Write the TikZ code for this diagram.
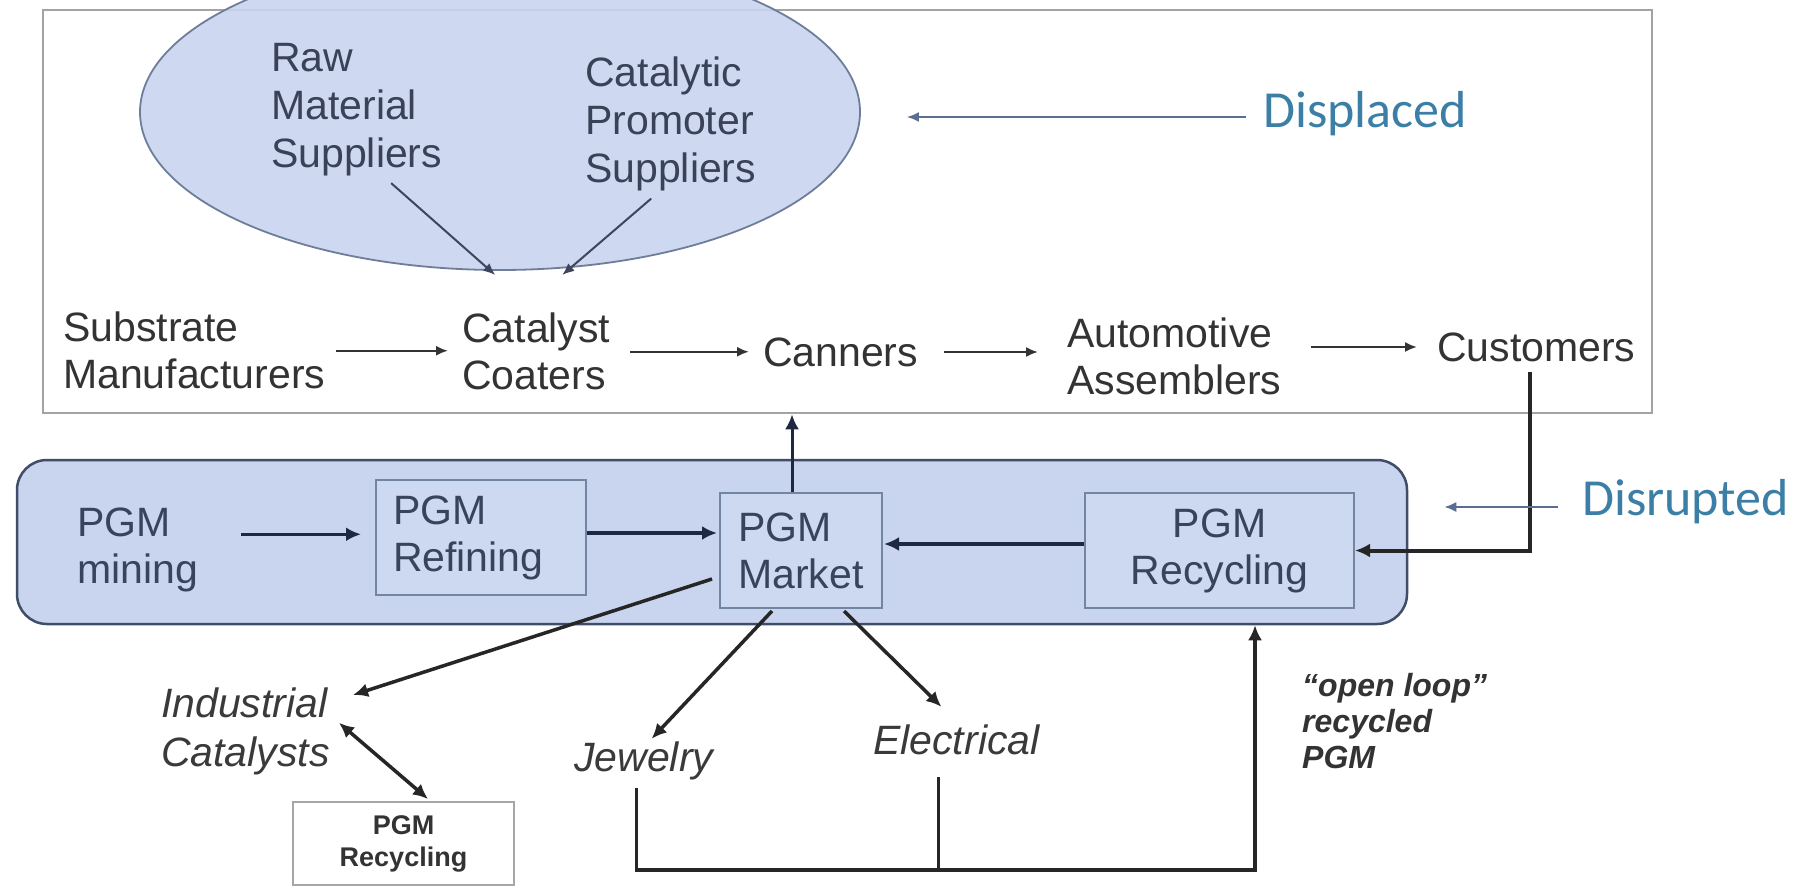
\documentclass[tikz,border=0pt]{standalone}
\usepackage{fontspec}
\setmainfont{Liberation Sans}
\newfontfamily\calib{Carlito}
\usetikzlibrary{arrows.meta,calc,shapes.geometric}

\definecolor{inktext}{HTML}{333333}
\definecolor{ovaltextc}{HTML}{3A4257}
\definecolor{slatetext}{HTML}{38435C}
\definecolor{usetextc}{HTML}{3A3A3A}
\definecolor{bandfill}{HTML}{C9D4EF}
\definecolor{boxfill}{HTML}{CDD8F1}
\definecolor{bandline}{HTML}{3F4D68}
\definecolor{boxline}{HTML}{7484A3}
\definecolor{framec}{HTML}{A3A3A3}
\definecolor{ovalline}{HTML}{6E7E9A}
\definecolor{ovalarrc}{HTML}{3C475E}
\definecolor{notecol}{HTML}{3B7EA6}
\definecolor{notearrow}{HTML}{5A6E92}
\definecolor{flow}{HTML}{1E2840}

\begin{document}
\begin{tikzpicture}[x=1pt,y=-1pt,
  rowtext/.style={inner sep=0pt,align=left,text=inktext,font=\fontsize{41}{47}\selectfont},
  ovaltext/.style={rowtext,text=ovaltextc,font=\fontsize{41}{48}\selectfont},
  bandtext/.style={rowtext,text=slatetext},
  usetext/.style={rowtext,text=usetextc,font=\fontsize{41}{49}\selectfont\itshape},
  stagebox/.style={draw=boxline,line width=2pt,fill=boxfill,inner sep=0pt,text=slatetext,font=\fontsize{41}{47}\selectfont},
  thinarr/.style={draw=inktext,line width=2pt,-{Latex[length=12pt,width=10pt]}},
  ovalarr/.style={draw=ovalarrc,line width=2pt,-{Latex[length=12pt,width=10pt]}},
  flowarr/.style={draw=flow,line width=3.5pt,-{Latex[length=15pt,width=14pt]}},
  loopline/.style={draw=black!85,line width=3.5pt},
  notearr/.style={draw=notearrow,line width=2pt,-{Latex[length=12pt,width=10pt]}},
  note/.style={inner sep=0pt,text=notecol,font=\calib\fontsize{52}{60}\selectfont},
]
\useasboundingbox (0,0) rectangle (1819,891);
\clip (0,0) rectangle (1819,891);
\fill[white] (0,0) rectangle (1819,891);

% frames
\node[draw=framec,line width=2.5pt,minimum width=1609pt,minimum height=403pt,inner sep=0pt] (upper) at (847.5,211.5) {};
\node[ellipse,draw=ovalline,line width=1.8pt,fill=bandfill,fill opacity=0.9,minimum width=720pt,minimum height=316pt,inner sep=0pt] (supp) at (500,112) {};
\node[draw=bandline,line width=2.5pt,fill=bandfill,rounded corners=30pt,minimum width=1390pt,minimum height=164pt,inner sep=0pt] (band) at (712,542) {};

% suppliers inside the oval
\node[ovaltext,anchor=north west] (rawms) at (271,43) {Raw\\Material\\Suppliers};
\node[ovaltext,anchor=north west] (catps) at (585,57) {Catalytic\\Promoter\\Suppliers};

% automotive chain
\node[rowtext,anchor=north west] (substrate) at (63,312) {Substrate\\Manufacturers};
\node[rowtext,anchor=north west] (catalyst) at (462,313) {Catalyst\\Coaters};
\node[rowtext,anchor=west] (canners) at (763,352) {Canners};
\node[rowtext,anchor=north west] (automotive) at (1067,318) {Automotive\\Assemblers};
\node[rowtext,anchor=west] (customers) at (1437,347) {Customers};

% PGM chain
\node[bandtext,anchor=north west] (mining) at (77,508) {PGM\\mining};
\node[stagebox,minimum width=210pt,minimum height=115pt,text width=176pt,align=left] (refining) at (481,537.5) {PGM\\Refining};
\node[stagebox,minimum width=162pt,minimum height=115pt,align=left] (market) at (801,550.5) {PGM\\Market};
\node[stagebox,minimum width=269pt,minimum height=115pt,align=center] (recyc) at (1219.5,550.5) {PGM\\Recycling};

% end uses
\node[usetext,anchor=north west] (industrial) at (161,688) {Industrial\\Catalysts};
\node[usetext,anchor=west] (jewelry) at (574,761) {Jewelry};
\node[usetext,anchor=west] (electrical) at (873,740) {Electrical};
\node[inner sep=0pt,anchor=north west,align=left,text=black!80,font=\fontsize{32}{36}\selectfont\bfseries\itshape] (openloop) at (1302,673) {“open loop”\\recycled\\PGM};
\node[draw=gray!70,line width=2pt,fill=white,minimum width=221pt,minimum height=83pt,align=center,inner sep=0pt,font=\fontsize{27}{32}\selectfont\bfseries,text=black!80] (smallrec) at (403.5,843.5) {PGM\\Recycling};

% annotations
\node[note,anchor=west] (displaced) at (1263,114) {Displaced};
\node[note,anchor=west] (disrupted) at (1582,502) {Disrupted};

% supplier arrows
\draw[ovalarr] ($(rawms.south)+(34.5,7)$) -- ($(catalyst.north)+(-41,-38)$);
\draw[ovalarr] ($(catps.south)+(-19.5,7)$) -- ($(catalyst.north)+(26,-38)$);

% automotive chain arrows
\draw[thinarr,shorten <=11pt,shorten >=14pt] (substrate.east) -- (substrate.east -| catalyst.west);
\draw[thinarr,shorten <=19pt,shorten >=14pt] (catalyst.east) -- (catalyst.east -| canners.west);
\draw[thinarr,shorten <=26pt,shorten >=29pt] (canners.east) -- (canners.east -| automotive.west);
\draw[thinarr,shorten <=29pt,shorten >=20pt] (customers.west -| automotive.east) -- (customers.west);

% customers back to recycling
\draw[flowarr,draw=black!85,line width=4pt] ($(customers.south)+(-6,10)$) |- (recyc.east);

% PGM chain arrows
\coordinate (mr) at ($(mining.east)+(43,-16)$);
\draw[flowarr,shorten >=14pt] (mr) -- (mr -| refining.west);
\coordinate (rm) at ($(refining.east)+(0,-4.5)$);
\draw[flowarr,shorten >=2pt] (rm) -- (rm -| market.west);
\coordinate (cm) at ($(recyc.west)+(0,-6.5)$);
\draw[flowarr,shorten >=1pt] (cm) -- (cm -| market.east);
\coordinate (mktup) at ($(market.north)+(-9,0)$);
\draw[flowarr,line width=3pt] (mktup) -- (mktup |- upper.south);

% market to end uses
\draw[flowarr,draw=black!85] ($(market.south west)+(-7,-30)$) -- ($(industrial.north east)+(23,7)$);
\draw[flowarr,draw=black!85,{Latex[length=15pt,width=14pt]}-{Latex[length=15pt,width=14pt]}] ($(industrial.east)+(9,-9)$) -- ($(smallrec.north)+(24.5,-2)$);
\draw[flowarr,draw=black!85] ($(market.south)+(-29,2)$) -- ($(jewelry.north)+(8,-3)$);
\draw[flowarr,draw=black!85] ($(market.south)+(43,2)$) -- ($(electrical.north)+(-15,-18)$);

% open loop return
\coordinate (loopturn) at (1255,870);
\coordinate (js) at ($(jewelry.south)+(-7,8)$);
\coordinate (es) at ($(electrical.south)+(-18,22)$);
\draw[loopline] (es) -- (es |- loopturn);
\draw[flowarr,draw=black!85] (js) |- (loopturn) -- (loopturn |- band.south);

% annotation arrows
\draw[notearr] ($(displaced.west)+(-17,3)$) -- ($(supp.east)+(46,5)$);
\draw[notearr] ($(disrupted.west)+(-24,5)$) -- ($(band.east)+(36,-35)$);
\end{tikzpicture}
\end{document}
